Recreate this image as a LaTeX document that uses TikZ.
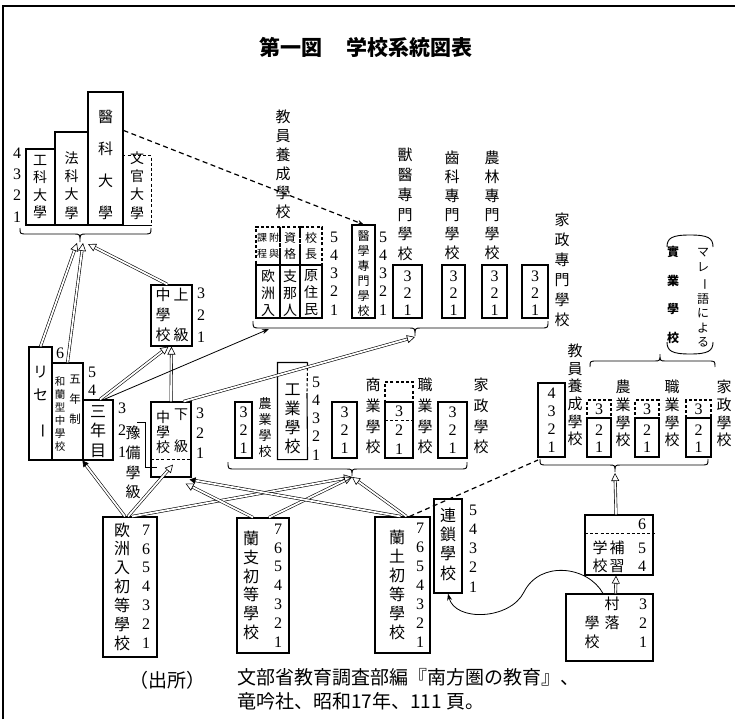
\documentclass[tikz,border=0pt]{standalone}
\usepackage{fontspec}
\setmainfont{Liberation Serif}
\newfontfamily\jp{Noto Sans CJK JP}
\usetikzlibrary{arrows.meta,calc}
\tikzset{
 bxs/.style={draw,line width=1.1pt,inner sep=0pt,minimum size=0pt},
 dsh/.style={dash pattern=on 3pt off 2.2pt},
 dbl/.style={draw,line width=0.6pt,double distance=1.8pt,-{Triangle[open,length=8pt,width=8pt]}},
 dblf/.style={draw,line width=0.6pt,double distance=1.8pt,-{Triangle[length=6pt,width=6.5pt]}},
 sarrow/.style={line width=0.8pt,-{Stealth[length=7pt,width=5pt]}},
 brc/.style={line width=0.9pt},
 vt/.style 2 args={align=center,inner sep=0pt,font=\jp\fontsize{#1}{#2}\selectfont},
 nm/.style 2 args={align=center,inner sep=0pt,font=\fontsize{#1}{#2}\selectfont},
}
\newcommand\bx[6][]{\node[bxs,minimum width={#5-#3},minimum height={#6-#4},#1] (#2) at ({(#3+#5)/2},{(#4+#6)/2}) {};}
\newcommand\mybrace[6]{\draw[brc] (#1,#3) .. controls (#1,#4) and (#1,#4) .. ({#1+7},#4) -- ({#5-6},#4) .. controls (#5,#4) and (#5,#4) .. (#5,#6) .. controls (#5,#4) and (#5,#4) .. ({#5+6},#4) -- ({#2-7},#4) .. controls (#2,#4) and (#2,#4) .. (#2,#3);}
\begin{document}
\begin{tikzpicture}[x=1pt,y=-1pt]
\useasboundingbox (0,0) rectangle (735,719);
\draw[line width=1.3pt] (3,719) -- (3,6) -- (735,6);
\node[font=\jp\bfseries\fontsize{21}{21}\selectfont] (title) at (366,47) {第一図\hspace{24pt}学校系統図表};

% ---------- universities
\bx{kou}{26}{149}{55}{225}
\bx{hou}{55}{132}{88}{225}
\bx{ika}{88}{92}{123}{225}
\bx[draw=none]{bunkan}{123}{156}{151}{225}
\draw[dsh,line width=1.1pt] (bunkan.north west) -- (bunkan.north east) -- (bunkan.south east);
\draw[line width=1.1pt] (bunkan.south west) -- (bunkan.south east);
\node[vt={14}{17.3}] (u1) at (40,187) {工\\科\\大\\學};
\node[vt={14}{18.3}] (u2) at (71.5,185.5) {法\\科\\大\\學};
\node[vt={15}{32}] (u3) at (105.5,165) {醫\\科\\大\\學};
\node[vt={14}{18.3}] (u4) at (137,185.5) {文\\官\\大\\學};
\node[nm={16}{21.3}] (un) at (17,185) {4\\3\\2\\1};
\mybrace{20}{151}{228}{234}{80}{242}
\coordinate (ubr) at (80,243);

% ---------- upper group
\bx[dsh]{t1d}{256}{227}{280}{265}
\bx[dsh]{t2d}{280}{227}{300}{265}
\bx[dsh]{t3d}{300}{227}{322}{265}
\bx{t1}{256}{265}{280}{318}
\bx{t2}{280}{265}{300}{318}
\bx{t3}{300}{265}{322}{318}
\node[vt={10}{16}] (a1) at (262,246) {課\\程};
\node[vt={10}{16}] (a2) at (274,246) {附\\與};
\node[vt={12}{16}] (a3) at (290,246) {資\\格};
\node[vt={12}{16}] (a4) at (311,246) {校\\長};
\node[vt={14}{17}] (a5) at (268,293) {欧\\洲\\入};
\node[vt={14}{17}] (a6) at (290,293) {支\\那\\人};
\node[vt={14}{17}] (a7) at (311,293) {原\\住\\民};
\node[nm={16}{18.25}] (an) at (334,273.5) {5\\4\\3\\2\\1};
\node[vt={15}{19}] (a8) at (283,164.5) {教\\員\\養\\成\\學\\校};

\bx{imon}{352}{225}{375}{318}
\node[vt={12}{15}] (b1) at (363.5,273.5) {醫\\學\\專\\門\\學\\校};
\node[nm={16}{18.25}] (bn) at (383,273.5) {5\\4\\3\\2\\1};

\bx{juui}{393}{265}{422}{318}
\bx{shika}{442}{265}{465}{318}
\bx{norin}{482}{265}{507}{318}
\bx{kaseis}{522}{265}{548}{318}
\node[nm={16}{17}] (c1) at (407.5,293) {3\\2\\1};
\node[nm={16}{17}] (c2) at (453.5,293) {3\\2\\1};
\node[nm={16}{17}] (c3) at (494.5,293) {3\\2\\1};
\node[nm={16}{17}] (c4) at (535,293) {3\\2\\1};
\node[vt={15}{19.8}] (c5) at (405,204.5) {獸\\醫\\專\\門\\學\\校};
\node[vt={15}{19}] (c6) at (452,205.5) {齒\\科\\專\\門\\學\\校};
\node[vt={15}{19}] (c7) at (492,205.5) {農\\林\\專\\門\\學\\校};
\node[vt={15}{20}] (c8) at (562,270) {家\\政\\專\\門\\學\\校};
\mybrace{253}{548}{321}{328}{415}{336}
\coordinate (tbr) at (415,337);
\coordinate (tarr) at (269,329);

\draw[dash pattern=on 5pt off 3.5pt,line width=1.2pt,-{Stealth[length=6pt,width=5pt]}] ($(ika.north east)+(0,39)$) -- (imon.north);

% ---------- left side
\bx{rise}{29}{347}{52}{460}
\bx{oranda}{52}{363}{83}{460}
\bx{sannen}{83}{400}{113}{460}
\node[vt={15}{23}] (d1) at (40.5,383.5) {リ\\セ};
\node[vt={15}{15},rotate=-90] (d2) at (40.5,431) {ー};
\node[vt={10.5}{13}] (d3) at (60,414.5) {和\\蘭\\型\\中\\學\\校};
\node[vt={11.5}{20}] (d4) at (75,400) {五\\年\\制};
\node[nm={16}{16}] (d5) at (60,353) {6};
\node[nm={16}{18}] (d6) at (92,381) {5\\4};
\node[vt={16}{19.5}] (d7) at (98,431.5) {三\\年\\目};
\node[nm={16}{22}] (d8) at (122,430) {3\\2\\1};

\bx{joukyu}{151}{285}{192}{346}
\node[vt={15}{20}] (e1) at (163,315) {中\\學\\校};
\node[vt={15}{40}] (e2) at (181,315) {上\\級};
\node[nm={16}{22}] (e3) at (201,315) {3\\2\\1};

\bx{kakyu}{151}{402}{191}{477}
\draw[dsh,line width=0.9pt] (151,459) -- (191,459);
\node[vt={14}{15}] (f1) at (163,432) {中\\學\\校};
\node[vt={14}{32}] (f2) at (181,431) {下\\級};
\node[nm={16}{20}] (f3) at (200,433) {3\\2\\1};
\node[vt={15}{19.7}] (f4) at (133,462.5) {豫\\備\\學\\級};
\draw[line width=0.8pt] (137,422) -- (145,422) -- (145,467) -- (157,467);

% ---------- middle group
\bx{noukou}{235}{402}{252}{458}
\node[nm={16}{18}] (g1) at (243.5,430) {3\\2\\1};
\node[vt={13}{16}] (g2) at (265,428) {農\\業\\學\\校};
\bx[draw=none]{kougyo}{278}{363}{307}{459}
\draw[line width=1.1pt] (307,393) -- (kougyo.south east) -- (kougyo.south west) -- (kougyo.north west) -- (kougyo.north east);
\draw[dsh,line width=1.1pt] (kougyo.north east) -- (307,393);
\node[vt={16}{19}] (g3) at (292.5,418.5) {工\\業\\學\\校};
\node[nm={16}{18.25}] (g4) at (316,418.5) {5\\4\\3\\2\\1};
\bx{shogyo}{332}{402}{357}{458}
\node[nm={16}{18}] (g5) at (344.5,430) {3\\2\\1};
\node[vt={15}{20.7}] (g6) at (373,416) {商\\業\\學\\校};
\bx[dsh]{shokd}{385}{382}{413}{402}
\bx{shoku}{385}{402}{413}{458}
\draw[dsh,line width=0.9pt] (385,420) -- (413,420);
\node[nm={16}{19}] (g7) at (399,430) {3\\2\\1};
\node[vt={15}{20.7}] (g8) at (425,416) {職\\業\\學\\校};
\bx{kasei2}{438}{402}{467}{458}
\node[nm={16}{18}] (g9) at (452.5,430) {3\\2\\1};
\node[vt={15}{20.7}] (g10) at (481,416) {家\\政\\學\\校};
\mybrace{228}{467}{462}{469}{352}{476}
\coordinate (mbr) at (352,477);

% ---------- elementary schools
\bx{ousyu}{103}{517}{157}{657}
\node[vt={16}{18.83}] (h1) at (122,586.5) {欧\\洲\\入\\初\\等\\學\\校};
\node[nm={16}{18.83}] (h2) at (146,586.5) {7\\6\\5\\4\\3\\2\\1};
\bx{ranshi}{237}{518}{289}{653}
\node[vt={16}{18.83}] (h3) at (251,585.5) {蘭\\支\\初\\等\\學\\校};
\node[nm={16}{18.83}] (h4) at (278,585.5) {7\\6\\5\\4\\3\\2\\1};
\bx{randou}{375}{517}{430}{653}
\node[vt={16}{19}] (h5) at (397,585) {蘭\\土\\初\\等\\學\\校};
\node[nm={16}{19}] (h6) at (420,585) {7\\6\\5\\4\\3\\2\\1};
\bx{rensa}{434}{499}{462}{593}
\node[vt={16}{19.3}] (h7) at (448,544) {連\\鎖\\學\\校};
\node[nm={16}{19.25}] (h8) at (473,548.5) {5\\4\\3\\2\\1};

\bx{hosyu}{585}{515}{653}{575}
\draw[dsh,line width=0.9pt] (585,533) -- (655,533);
\node[nm={16}{16}] (k1) at (642,524) {6};
\node[vt={15}{18}] (k2) at (600,557) {学\\校};
\node[vt={15}{18}] (k3) at (617,557) {補\\習};
\node[nm={16}{18}] (k4) at (642,557) {5\\4};
\bx{sonraku}{566}{594}{653}{661}
\node[vt={15}{19}] (k5) at (612,613.5) {村\\落};
\node[vt={15}{19}] (k6) at (592,632.5) {學\\校};
\node[nm={16}{19}] (k7) at (643,623) {3\\2\\1};

% ---------- right group
\bx{kyoin2}{538}{383}{565}{457}
\node[nm={16}{18}] (r0) at (551.5,420) {4\\3\\2\\1};
\node[vt={15}{17.6}] (r00) at (575,395) {教\\員\\養\\成\\學\\校};
\bx[dsh]{r1d}{587}{400}{611}{418}
\bx{r1}{587}{418}{611}{457}
\bx[dsh]{r2d}{635}{400}{659}{418}
\bx{r2}{635}{418}{659}{457}
\bx[dsh]{r3d}{686}{400}{711}{418}
\bx{r3}{686}{418}{711}{457}
\node[nm={16}{16}] (r1a) at (599,409) {3};
\node[nm={16}{17}] (r1b) at (599,438.5) {2\\1};
\node[nm={16}{16}] (r2a) at (647,409) {3};
\node[nm={16}{17}] (r2b) at (647,438.5) {2\\1};
\node[nm={16}{16}] (r3a) at (698.5,409) {3};
\node[nm={16}{17}] (r3b) at (698.5,438.5) {2\\1};
\node[vt={15}{17.7}] (r4) at (623,413.5) {農\\業\\學\\校};
\node[vt={15}{17.7}] (r5) at (672,413.5) {職\\業\\學\\校};
\node[vt={15}{17.7}] (r6) at (724,413.5) {家\\政\\學\\校};
\mybrace{590}{715}{367}{361}{660}{354}
\node[vt={12}{28.7},font=\jp\bfseries\fontsize{12}{28.7}\selectfont] (r7) at (673,295) {實\\業\\學\\校};
\node[vt={12}{15}] (r8) at (703,259.5) {マ\\レ};
\node[vt={12}{12},rotate=-90] (r9) at (703,284) {ー};
\node[vt={12}{14.3}] (r10) at (703,320.5) {語\\に\\よ\\る};
\draw[line width=0.9pt] (667,247) .. controls (667,238) and (672,235) .. (690,235) .. controls (708,235) and (713,238) .. (713,247);
\draw[line width=0.9pt] (667,342) .. controls (667,351) and (672,354) .. (690,354) .. controls (708,354) and (713,351) .. (713,342);
\mybrace{540}{708}{459}{465}{615}{472}
\coordinate (rbr) at (615,473);
\coordinate (rbrl) at (538,460);

% ---------- connectors
\draw[dbl] (rise.north) -- ($(ubr)+(-3,0)$);
\draw[dbl] (oranda.north) -- ($(ubr)+(3,0)$);
\draw[dbl] ($(joukyu.north)+(-4,0)$) -- ($(ubr)+(8,1)$);
\draw[dbl] ($(sannen.north)+(2,0)$) -- ($(joukyu.south)+(-3,0)$);
\draw[dbl] (kakyu.north) -- (joukyu.south);
\draw[sarrow] ($(sannen.north)+(6,0)$) -- (tarr);
\draw[dbl] ($(kakyu.north east)+(-8,0)$) -- (tbr);
\draw[dblf] ($(ousyu.north)+(-5,0)$) -- (sannen.south west);
\draw[dbl] ($(ousyu.north)+(-2,0)$) -- ($(kakyu.south)+(2,-13)$);
\draw[dbl] ($(ousyu.north)+(2,0)$) -- (mbr);
\draw[dbl] ($(ranshi.north)+(-10,0)$) -- ($(kakyu.south east)+(-6,6)$);
\draw[dbl] ($(ranshi.north)+(6,0)$) -- (mbr);
\draw[dblf] ($(randou.north)+(-2,0)$) -- ($(kakyu.south east)+(-2,2)$);
\draw[dbl] ($(randou.north)+(4,0)$) -- (mbr);
\draw[dash pattern=on 5pt off 3.5pt,line width=1.2pt] ($(randou.north)+(7,0)$) -- (rbrl);
\draw[sarrow] ($(sonraku.north)+(-6.5,0)$) .. controls (588,566) and (540,560) .. (524,592) .. controls (510,620) and (455,622) .. (rensa.south);
\draw[dbl] ($(sonraku.north)+(6,0)$) -- ($(hosyu.south)+(-3,0)$);
\draw[dbl] ($(hosyu.north)+(-3,0)$) -- (rbr);

% ---------- source
\node[font=\jp\fontsize{19}{19}\selectfont,anchor=west] (src) at (126,680) {（出所）};
\node[font=\jp\fontsize{19}{24}\selectfont,anchor=north west,align=left,inner sep=0pt] (ref) at (237,668) {文部省教育調査部編『南方圏の教育』、\\竜吟社、昭和17年、111 頁。};
\end{tikzpicture}
\end{document}
